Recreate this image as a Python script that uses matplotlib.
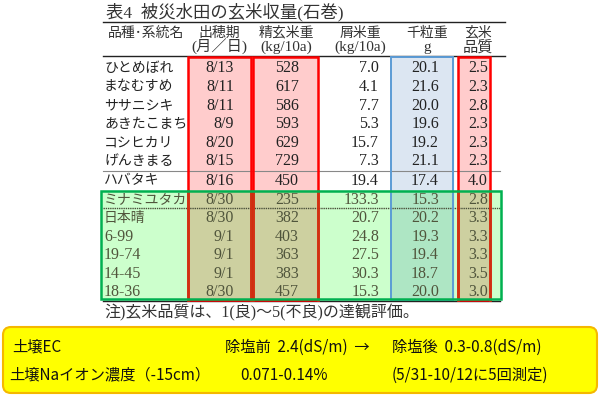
import matplotlib.pyplot as plt
from matplotlib.patches import Rectangle, FancyBboxPatch

title = "表4  被災水田の玄米収量(石巻)"
head1 = ["品種･系統名", "出穂期", "精玄米重", "屑米重", "千粒重", "玄米"]
head2 = ["", "(月／日)", "(kg/10a)", "(kg/10a)", "g", "品質"]

names = ["ひとめぼれ", "まなむすめ", "ササニシキ", "あきたこまち", "コシヒカリ", "げんきまる",
         "ハバタキ", "ミナミユタカ", "日本晴", "6-99", "19-74", "14-45", "18-36"]
heading = ["8/13", "8/11", "8/11", "8/9", "8/20", "8/15", "8/16",
           "8/30", "8/30", "9/1", "9/1", "9/1", "8/30"]
brown_rice = [528, 617, 586, 593, 629, 729, 450, 235, 382, 403, 363, 383, 457]
waste_rice = [7.0, 4.1, 7.7, 5.3, 15.7, 7.3, 19.4, 133.3, 20.7, 24.8, 27.5, 30.3, 15.3]
kernel_wt = [20.1, 21.6, 20.0, 19.6, 19.2, 21.1, 17.4, 15.3, 20.2, 19.3, 19.4, 18.7, 20.0]
quality = [2.5, 2.3, 2.8, 2.3, 2.3, 2.3, 4.0, 2.8, 3.3, 3.3, 3.3, 3.5, 3.0]

note = "注)玄米品質は、1(良)～5(不良)の達観評価。"
soil_rows = [["土壌EC", "除塩前  2.4(dS/m)  →", "除塩後  0.3-0.8(dS/m)"],
             ["土壌Naイオン濃度（-15cm）", "0.071-0.14%", "(5/31-10/12に5回測定)"]]

serif = ["Liberation Serif", "Noto Sans CJK JP"]
gothic = ["Noto Sans CJK JP", "DejaVu Sans"]

fig = plt.figure(figsize=(6, 4), dpi=100)
ax = fig.add_axes([0, 0, 1, 1])
ax.set_xlim(0, 600)
ax.set_ylim(400, 0)
ax.axis("off")

# column boxes: (x0, x1, fill, overlap-with-green fill, edge)
top, bot = 57, 300
gy0, gy1, gx0, gx1 = 191, 299, 101, 501
cols = [(188, 251, "#ffcccc", "#cdd0a0", "red"),
        (253, 318, "#ffcccc", "#cdd0a0", "red"),
        (391, 453, "#dce6f2", "#aee6c4", "#5b9bd5"),
        (458, 490, "#ffcccc", "#cdd0a0", "red")]
ax.add_patch(Rectangle((gx0, gy0), gx1 - gx0, gy1 - gy0, color="#ccffcc", zorder=1))
for x0, x1, fc, oc, ec in cols:
    ax.add_patch(Rectangle((x0, top), x1 - x0, bot - top, color=fc, zorder=1))
    ax.add_patch(Rectangle((x0, gy0), x1 - x0, gy1 - gy0, color=oc, zorder=2))

# title and header
ax.text(106, 12, title, fontsize=12.5, family=serif, color="#333", va="center", ha="left")
ax.plot([103, 505], [22, 22], color="#222", lw=1)
hx = [146, 219, 286, 360, 427, 478]
for x, a, b in zip(hx, head1, head2):
    ax.text(x, 33, a, fontsize=10, family=serif, color="#333", ha="center", va="center")
    ax.text(x, 47, b, fontsize=11, family=serif, color="#333", ha="center", va="center")
ax.plot([103, 505], [56, 56], color="#222", lw=1)

# rows
for i in range(len(names)):
    y = 68.3 + 18.6 * i + (1 if i >= 6 else 0)
    c = "#50553c" if i >= 7 else "#222"
    kw = dict(fontsize=11.5, family=serif, color=c, va="center", zorder=3)
    name_size = 11.5 if names[i][0].isdigit() else 10
    ax.text(104, y, names[i], ha="left", **dict(kw, fontsize=name_size))
    ax.text(234, y, heading[i], ha="right", **kw)
    ax.text(299, y, f"{brown_rice[i]}", ha="right", **kw)
    ax.text(379, y, f"{waste_rice[i]:.1f}", ha="right", **kw)
    ax.text(439, y, f"{kernel_wt[i]:.1f}", ha="right", **kw)
    ax.text(488, y, f"{quality[i]:.1f}", ha="right", **kw)

ax.plot([103, 500], [170.5, 170.5], color="#888", lw=0.8, zorder=3)
ax.plot([103, 500], [207.5, 207.5], color="#4a4f3a", lw=1, ls=(0, (1, 0.6)), zorder=3)
ax.plot([103, 500], [301, 301], color="#222", lw=1, zorder=3)

# box edges
for x0, x1, fc, oc, ec in cols:
    lw = 1.8 if ec == "red" else 1.4
    ax.add_patch(Rectangle((x0, top), x1 - x0, bot - top, fill=False, ec=ec, lw=lw, zorder=4))
    if ec == "red":
        ax.plot([x0, x0], [gy0, bot], color="#cc3311", lw=lw, zorder=4)
        ax.plot([x1, x1], [gy0, bot], color="#cc3311", lw=lw, zorder=4)
ax.add_patch(Rectangle((gx0, gy0), gx1 - gx0, gy1 - gy0, fill=False, ec="#00b050", lw=1.8, zorder=5))

ax.text(104, 313, note, fontsize=11.5, family=serif, color="#333", ha="left", va="center")

# yellow box
ax.add_patch(FancyBboxPatch((9, 333), 582, 54, boxstyle="round,pad=6,rounding_size=8",
                            fc="#ffff00", ec="#f5b800", lw=1.5, zorder=1))
for y, row in zip([347, 375], soil_rows):
    for x, s in zip([12 if y == 347 else 9, 225 if y == 347 else 240, 392], row):
        ax.text(x, y, s, fontsize=11, family=gothic, color="#111", ha="left", va="center", zorder=3)

fig.savefig("out.png", dpi=100)
